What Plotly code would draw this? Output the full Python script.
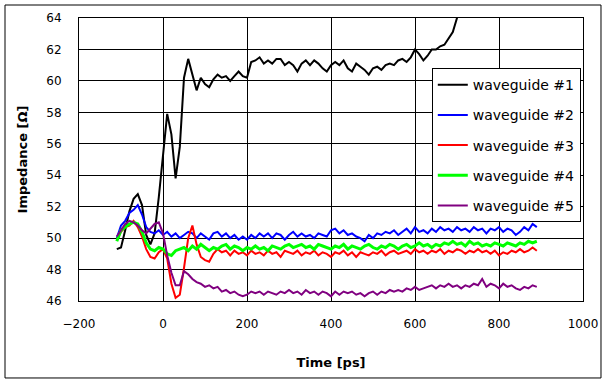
import plotly.graph_objects as go

time_ps = list(range(-110, 900, 10))

wg1 = [49.3, 49.4, 50.5, 51.7, 52.5, 52.8, 52.1, 50.2, 49.6, 50.3,
       52.6, 55.3, 57.9, 56.6, 53.8, 55.8, 60.2, 61.4, 60.4, 59.4,
       60.2, 59.8, 59.6, 60.1, 60.4, 60.2, 60.3, 60.0, 60.3, 60.6,
       60.3, 60.2, 61.2, 61.3, 61.5, 61.1, 61.3, 61.1, 61.4, 61.4,
       61.0, 61.2, 61.0, 60.6, 61.1, 61.3, 61.0, 61.3, 61.1, 60.8,
       60.6, 61.0, 61.2, 61.0, 61.3, 60.8, 60.6, 61.1, 60.9, 60.7,
       60.4, 60.8, 60.9, 60.7, 61.0, 61.1, 61.0, 61.3, 61.4, 61.2,
       61.5, 62.0, 61.7, 61.3, 61.6, 62.0, 62.0, 62.2, 62.3, 62.7,
       63.1, 64.0, 64.8]

wg2 = [50.0, 50.8, 51.1, 51.6, 51.8, 52.1, 51.5, 50.7, 50.4, 50.3,
       50.5, 50.2, 50.4, 50.1, 50.3, 50.0, 50.2, 50.4, 50.3, 50.0,
       50.3, 50.1, 49.9, 50.3, 50.4, 50.1, 50.3, 50.0, 50.2, 49.9,
       50.1, 49.9, 50.2, 50.0, 50.3, 50.1, 50.3, 50.0, 50.3, 50.2,
       49.9, 50.2, 50.4, 50.1, 50.3, 50.1, 50.2, 50.0, 50.3, 50.2,
       50.1, 50.5, 50.6, 50.3, 50.5, 50.2, 50.3, 50.1, 50.0, 49.8,
       50.2, 50.0, 50.3, 50.2, 50.4, 50.3, 50.5, 50.2, 50.4, 50.6,
       50.3, 50.7, 50.4, 50.5, 50.3, 50.6, 50.4, 50.7, 50.5, 50.6,
       50.4, 50.7, 50.5, 50.6, 50.4, 50.7, 50.5, 50.6, 50.3, 50.6,
       50.5, 50.7, 50.4, 50.6, 50.5, 50.2, 50.4, 50.7, 50.5, 50.9,
       50.7]

wg3 = [49.9, 50.4, 50.7, 50.8, 51.1, 50.7, 50.1, 49.3, 48.8, 48.7,
       49.1, 49.3, 48.7, 47.1, 46.2, 46.4, 48.1, 50.0, 50.8, 49.6,
       48.8, 48.6, 48.5, 49.0, 49.3, 49.1, 49.2, 48.9, 49.2, 49.0,
       49.1, 48.9, 49.2, 49.0, 49.1, 48.9, 49.2, 49.0, 49.1, 48.8,
       49.2, 49.1, 49.0, 49.2, 48.9, 49.1, 49.0, 49.2, 48.9, 49.1,
       49.0, 48.8, 49.1, 49.0, 49.2, 48.9, 49.1, 48.8, 49.1, 49.0,
       48.9, 49.1, 49.0, 49.2, 48.9, 49.1, 49.2, 49.0, 49.1, 49.2,
       49.0, 49.3, 49.1, 49.2, 49.0, 49.2, 49.1, 49.3, 49.0, 49.2,
       49.1, 49.3, 49.2, 49.0, 49.2, 49.1, 49.3, 49.1, 49.2, 49.0,
       49.2, 48.9, 49.1, 49.0, 49.2, 49.1, 49.3, 49.1, 49.2, 49.4,
       49.2]

wg4 = [49.8, 50.5, 50.7, 50.9, 51.0, 50.9, 50.4, 49.7, 49.3, 49.2,
       49.4, 49.3, 49.0, 48.9, 49.2, 49.3, 49.4, 49.2, 49.5, 49.3,
       49.6, 49.4, 49.2, 49.4, 49.3, 49.5, 49.6, 49.3, 49.5, 49.4,
       49.2, 49.4, 49.3, 49.5, 49.3, 49.4, 49.2, 49.5, 49.4, 49.3,
       49.5, 49.6, 49.4, 49.5, 49.6, 49.4, 49.5, 49.3, 49.6, 49.5,
       49.4, 49.3, 49.5, 49.4, 49.6, 49.3, 49.5, 49.4, 49.3, 49.5,
       49.6, 49.4, 49.3, 49.5, 49.4, 49.6, 49.5, 49.3, 49.5, 49.6,
       49.4, 49.5, 49.7, 49.5, 49.6, 49.4, 49.6, 49.5, 49.7, 49.6,
       49.8, 49.6, 49.7, 49.5, 49.8, 49.6, 49.7, 49.5, 49.6, 49.5,
       49.7, 49.6, 49.5, 49.7, 49.6, 49.5, 49.7, 49.6, 49.8, 49.7,
       49.8]

wg5 = [50.1, 50.5, 50.9, 51.1, 51.0, 50.8, 50.5, 50.3, 50.6, 50.9,
       51.0, 50.3, 48.9, 47.8, 47.0, 47.0, 47.9, 47.7, 47.4, 47.2,
       47.1, 46.9, 47.0, 46.8, 46.9, 46.6, 46.7, 46.5, 46.6, 46.4,
       46.3, 46.4, 46.6, 46.5, 46.6, 46.4, 46.6, 46.5, 46.4, 46.6,
       46.5, 46.7, 46.5, 46.6, 46.4, 46.7, 46.5, 46.6, 46.4, 46.6,
       46.5, 46.3, 46.6, 46.4, 46.6, 46.5, 46.6, 46.4, 46.5, 46.3,
       46.5, 46.6, 46.4, 46.6, 46.5, 46.7, 46.6, 46.7, 46.6, 46.8,
       46.7, 46.9, 46.7, 46.8, 46.9, 47.0, 46.8, 47.0, 46.9, 47.1,
       46.9, 47.0, 46.8, 47.0, 46.9, 47.1, 47.0, 47.4, 46.9, 47.1,
       47.0, 46.8, 47.1, 46.9, 47.0, 46.8, 46.7, 46.9, 46.8, 47.0,
       46.9]

names = ["waveguide #1", "waveguide #2", "waveguide #3", "waveguide #4", "waveguide #5"]
series = [wg1, wg2, wg3, wg4, wg5]
colors = ["#000000", "#0000FF", "#FF0000", "#00FF00", "#800080"]
widths = [2, 2, 2, 3, 2]

x_ticks = [-200, 0, 200, 400, 600, 800, 1000]
y_ticks = [46, 48, 50, 52, 54, 56, 58, 60, 62, 64]

FONT = "DejaVu Sans"

fig = go.Figure()
for i, (nm, ys) in enumerate(zip(names, series)):
    fig.add_trace(go.Scatter(
        x=time_ps[:len(ys)], y=ys, mode="lines", name=nm,
        legendgroup=str(i),
        line=dict(color=colors[i], width=widths[i]),
    ))

fig.update_layout(
    width=607, height=384,
    margin=dict(l=79, r=24, t=18, b=83, autoexpand=False),
    paper_bgcolor="white", plot_bgcolor="white",
    font=dict(family=FONT, color="black"),
    showlegend=True,
    legend=dict(
        x=0.70, y=0.823, xanchor="left", yanchor="top",
        bgcolor="white", bordercolor="black", borderwidth=1,
        font=dict(family=FONT, size=14, color="black"),
        tracegroupgap=9, itemwidth=30,
    ),
    xaxis=dict(
        range=[-200, 1000], tickvals=x_ticks, automargin=False,
        showgrid=True, gridcolor="black", gridwidth=1,
        showline=True, linecolor="black", linewidth=1, mirror=True,
        zeroline=False, ticks="", ticklabelstandoff=12,
        tickfont=dict(family=FONT, size=12, color="black"),
        title=dict(text="<b>Time [ps]</b>", font=dict(family=FONT, size=13, color="black"), standoff=27),
    ),
    yaxis=dict(
        range=[46, 64], tickvals=y_ticks, automargin=False,
        showgrid=True, gridcolor="black", gridwidth=1,
        showline=True, linecolor="black", linewidth=1, mirror=True,
        zeroline=False, ticks="", ticklabelstandoff=14,
        tickfont=dict(family=FONT, size=12, color="black"),
        title=dict(text="<b>Impedance [Ω]</b>", font=dict(family=FONT, size=13, color="black"), standoff=15),
    ),
    shapes=[dict(type="rect", xref="paper", yref="paper",
                 x0=-0.1468, x1=1.0357, y0=-0.272, y1=1.0459,
                 line=dict(color="black", width=1), fillcolor="rgba(0,0,0,0)", layer="below")],
)

fig.write_html("out.html", config={"displayModeBar": False},
               post_script="document.body.style.margin='0';")
